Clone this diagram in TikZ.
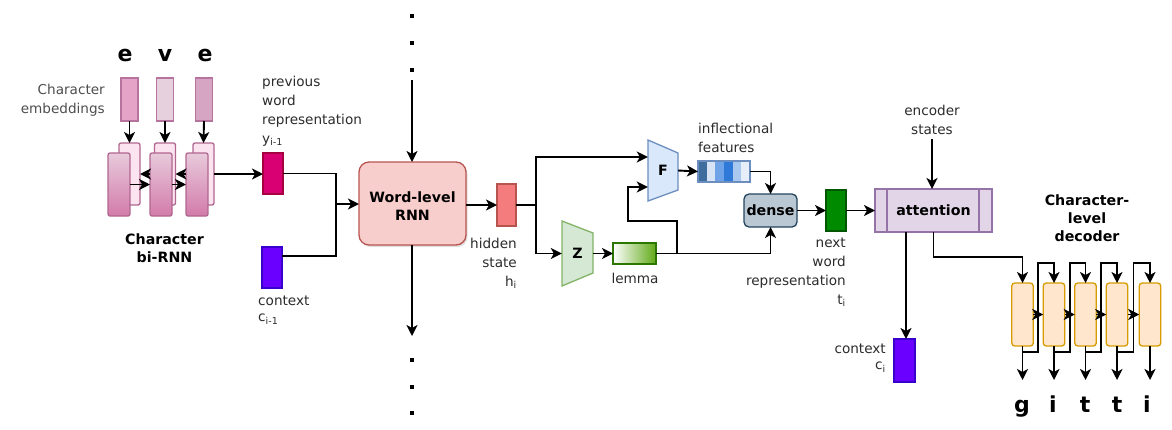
\documentclass[tikz,border=0pt]{standalone}
\usepackage{fontspec}
\setmainfont{DejaVu Sans}
\usetikzlibrary{arrows.meta,shadows,calc}
\definecolor{txt}{HTML}{2B2B2B}
\definecolor{txtg}{HTML}{4D4D4D}
\definecolor{embst}{HTML}{B5739D}
\definecolor{embA}{HTML}{E6A3C8}
\definecolor{embB}{HTML}{E6D0DE}
\definecolor{embC}{HTML}{D6A5C4}
\definecolor{rnnst}{HTML}{B0668F}
\definecolor{bkfill}{HTML}{FBE3EF}
\definecolor{frtop}{HTML}{E8CADB}
\definecolor{frbot}{HTML}{D27BAA}
\definecolor{yfill}{HTML}{D80073}
\definecolor{ystroke}{HTML}{A50040}
\definecolor{cfill}{HTML}{6A00FF}
\definecolor{cstroke}{HTML}{3700CC}
\definecolor{redfill}{HTML}{F8CECC}
\definecolor{redst}{HTML}{B85450}
\definecolor{hfill}{HTML}{F47C7C}
\definecolor{bluefill}{HTML}{DAE8FC}
\definecolor{bluest}{HTML}{6C8EBF}
\definecolor{greenfill}{HTML}{D5E8D4}
\definecolor{greenst}{HTML}{82B366}
\definecolor{lemgreen}{HTML}{60A917}
\definecolor{lemst}{HTML}{2D7600}
\definecolor{ftA}{HTML}{3F6E9E}
\definecolor{ftB}{HTML}{D6E4F5}
\definecolor{ftC}{HTML}{6FA3E8}
\definecolor{ftD}{HTML}{2F7AD8}
\definecolor{ftE}{HTML}{A9C8F0}
\definecolor{ftF}{HTML}{E6EEFA}
\definecolor{densefill}{HTML}{BAC8D3}
\definecolor{densest}{HTML}{23445D}
\definecolor{tfill}{HTML}{008A00}
\definecolor{tstroke}{HTML}{005700}
\definecolor{attfill}{HTML}{E1D5E7}
\definecolor{attst}{HTML}{9673A6}
\definecolor{decfill}{HTML}{FFE6CC}
\definecolor{decst}{HTML}{D79B00}
\begin{document}
\begin{tikzpicture}[x=1pt,y=-1pt,
  ln/.style={line width=1.9pt,draw=black},
  arr/.style={ln,-{Stealth[length=11pt,width=11pt,inset=3pt]}},
  box/.style={draw,line width=1.3pt,inner sep=0pt,outer sep=0pt},
  lbl/.style={font=\fontsize{13.6}{19}\selectfont,text=txt,inner sep=0pt},
  blbl/.style={font=\fontsize{14.2}{18}\selectfont\bfseries,text=black,inner sep=0pt,align=center},
  big/.style={font=\fontsize{22}{24}\selectfont\bfseries,inner sep=0pt,anchor=base},
  dot/.style={fill=black,minimum size=3.8pt,inner sep=0pt},
  emb/.style={box,draw=embst,minimum width=17,minimum height=43},
  back/.style={box,draw=rnnst,fill=bkfill,rounded corners=2pt,minimum width=21,minimum height=62},
  front/.style={box,draw=rnnst,top color=frtop,bottom color=frbot,rounded corners=2pt,minimum width=22,minimum height=63},
  vec/.style={box,minimum width=20,minimum height=41},
  dec/.style={box,draw=decst,fill=decfill,rounded corners=3pt,minimum width=21.5,minimum height=63},
]
\useasboundingbox (0,0) rectangle (1172,429);

% ---------- character encoder ----------
\node[big] (l1) at (125,61) {e};
\node[big] (l2) at (165,61) {v};
\node[big] (l3) at (205,61) {e};
\node[lbl,text=txtg,align=right,anchor=east] (embtxt) at (105,100) {Character\\embeddings};
\node[emb,fill=embA] (e1) at (129.5,99.5) {};
\node[emb,fill=embB] (e2) at (165,99.5) {};
\node[emb,fill=embC] (e3) at (204,99.5) {};
\node[back] (b1) at (129.5,174) {};
\node[back] (b2) at (165,174) {};
\node[back] (b3) at (203.5,174) {};
\node[front] (f1) at (119,184.5) {};
\node[front] (f2) at (161,184.5) {};
\node[front] (f3) at (197,184.5) {};
\draw[arr] (e1.south) -- (b1.north);
\draw[arr] (e2.south) -- (b2.north);
\draw[arr] (e3.south) -- (b3.north);
\draw[arr] (f2.west |- b1.east) -- (b1.east);
\draw[arr] (f3.west |- b2.east) -- (b2.east);
\draw[arr] (f1.east) -- (f2.west);
\draw[arr] (f2.east) -- (f3.west);
\node[blbl] (birnn) at (164.5,248.5) {Character\\bi-RNN};

% ---------- inputs to word RNN ----------
\node[vec,draw=ystroke,fill=yfill] (yprev) at (273,173.5) {};
\node[vec,draw=cstroke,fill=cfill] (cprev) at (272,267.5) {};
\node[lbl,align=left,anchor=west] (ytxt) at (262,111) {previous\\word\\representation\\y\textsubscript{i-1}};
\node[lbl,align=left,anchor=west,font=\fontsize{13.6}{16.5}\selectfont] (ctxt) at (258,310) {context\\c\textsubscript{i-1}};
\draw[arr] (b3.east) -- (yprev.west |- b3.east);
\coordinate (j1) at (336,204);
\draw[ln] (yprev.east) -| (j1);
\draw[ln] ([yshift=11.5pt]cprev.east) -| (j1);

% ---------- word-level RNN ----------
\node[box,draw=redst,fill=redfill,rounded corners=10pt,minimum width=107,minimum height=83,
      drop shadow={opacity=0.25,shadow xshift=1.5pt,shadow yshift=-2pt}] (rnn) at (412.5,203.5) {};
\node[blbl] (rnntxt) at (412.5,206) {Word-level\\RNN};
\draw[arr] (j1) -- (rnn.west |- j1);
\node[dot] (d1) at (412,16) {};
\node[dot] (d2) at (412,43) {};
\node[dot] (d3) at (412,70) {};
\node[dot] (d4) at (412,360) {};
\node[dot] (d5) at (412,387) {};
\node[dot] (d6) at (412,413) {};
\draw[arr] ([yshift=-10pt]d3.center) -- (rnn.north -| d3);
\draw[arr] (rnn.south -| d4) -- ([yshift=24pt]d4.center);

% ---------- hidden state ----------
\node[box,draw=redst,fill=hfill,minimum width=19,minimum height=42] (h) at (506.5,205) {};
\node[lbl,align=right,anchor=east] (htxt) at (517,263) {hidden\\state\\h\textsubscript{i}};
\draw[arr] (rnn.east |- h.west) -- (h.west);
\coordinate (j2) at (536,205);
\draw[ln] (h.east) -- (j2);

% ---------- F and Z ----------
\draw[line width=1.3pt,draw=bluest,fill=bluefill] (648,140) -- (678,153) -- (678,190) -- (648,201) -- cycle;
\node[inner sep=0pt,minimum width=30,minimum height=61,font=\fontsize{14.2}{18}\selectfont\bfseries] (F) at (663,170.5) {F};
\draw[line width=1.3pt,draw=greenst,fill=greenfill] (562,221) -- (593,233) -- (593,273) -- (562,286) -- cycle;
\node[inner sep=0pt,minimum width=31,minimum height=65,font=\fontsize{14.2}{18}\selectfont\bfseries] (Z) at (577.5,253.5) {Z};
\draw[arr] (j2) |- ($(F.west)+(0,-13.5)$);
\draw[arr] (j2) |- (Z.west);

\node[box,draw=lemst,left color=white,right color=lemgreen,minimum width=43,minimum height=21] (lemma) at (634.5,253.5) {};
\node[lbl] (lemtxt) at (635,278) {lemma};
\draw[arr] (Z.east) -- (lemma.west);

% ---------- inflectional features ----------
\foreach \i/\c in {0/ftA,1/ftB,2/ftC,3/ftD,4/ftE,5/ftF}
  \fill[\c] (698+\i*8.6667,161) rectangle ++(8.6667,21);
\node[box,draw=bluest,minimum width=52,minimum height=21] (feat) at (724,171.5) {};
\node[lbl,align=left,anchor=west] (feattxt) at (698,138) {inflectional\\features};
\draw[arr] (F.east) -- (feat.west);

% ---------- dense ----------
\node[box,draw=densest,fill=densefill,rounded corners=5pt,minimum width=53,minimum height=33] (dense) at (770.5,210.5) {};
\node[font=\fontsize{14.2}{18}\selectfont\bfseries,inner sep=0pt] (densetxt) at (770.5,210.5) {dense};
\draw[arr] (feat.east) -| (dense.north);
\draw[arr] (lemma.east) -| (dense.south);
\coordinate (j3) at (677,253.5);
\draw[arr] (j3) |- (628,221) |- ($(F.west)+(0,16.5)$);

% ---------- next word representation ----------
\node[vec,draw=tstroke,fill=tfill,minimum height=41] (t) at (836,210.5) {};
\node[lbl,align=right,anchor=east] (ttxt) at (846,272) {next\\word\\representation\\t\textsubscript{i}};
\draw[arr] (dense.east) -- (t.west);

% ---------- attention ----------
\node[box,draw=attst,fill=attfill,minimum width=117,minimum height=43] (att) at (933.5,210.5) {};
\draw[line width=1.3pt,draw=attst] (887,189) -- (887,232) (979,189) -- (979,232);
\node[font=\fontsize{14.2}{18}\selectfont\bfseries,inner sep=0pt] (atttxt) at (933.5,210.5) {attention};
\draw[arr] (t.east) -- (att.west);
\node[lbl,align=center] (enc) at (932,120) {encoder\\states};
\draw[arr] ([yshift=-4pt]enc.south) -- (enc.south |- att.north);

\node[box,draw=cstroke,fill=cfill,minimum width=21,minimum height=43] (ctx) at (904.5,360.5) {};
\node[lbl,align=right,anchor=east,font=\fontsize{13.6}{16.5}\selectfont] (ctxtxt) at (886,358) {context\\c\textsubscript{i}};
\draw[arr] (att.south -| 906,0) -- (ctx.north -| 906,0);

% ---------- character-level decoder ----------
\node[dec] (c1) at (1022.5,314.5) {};
\node[dec] (c2) at (1054,314.5) {};
\node[dec] (c3) at (1085.5,314.5) {};
\node[dec] (c4) at (1117,314.5) {};
\node[dec] (c5) at (1150,314.5) {};
\node[blbl] (dectxt) at (1087,218) {Character-\\level\\decoder};
\draw[arr] (att.south) |- ($(c1.north)+(0,-26)$) -- (c1.north);
\foreach \a/\b in {c1/c2,c2/c3,c3/c4,c4/c5}{
  \draw[arr] (\a.east) -- (\b.west);
  \coordinate (g) at ($(\a.east)!0.5!(\b.west)$);
  \draw[arr] ($(\a.south)+(0,6)$) -| ($(g)+(0,-51.5)$) -| (\b.north);
}
\foreach \c in {c1,c2,c3,c4,c5}
  \draw[arr] (\c.south) -- ($(\c.south)+(0,34)$);
\node[big] (o1) at (1022,412) {g};
\node[big] (o2) at (1053,412) {i};
\node[big] (o3) at (1085,412) {t};
\node[big] (o4) at (1117,412) {t};
\node[big] (o5) at (1147,412) {i};
\end{tikzpicture}
\end{document}
